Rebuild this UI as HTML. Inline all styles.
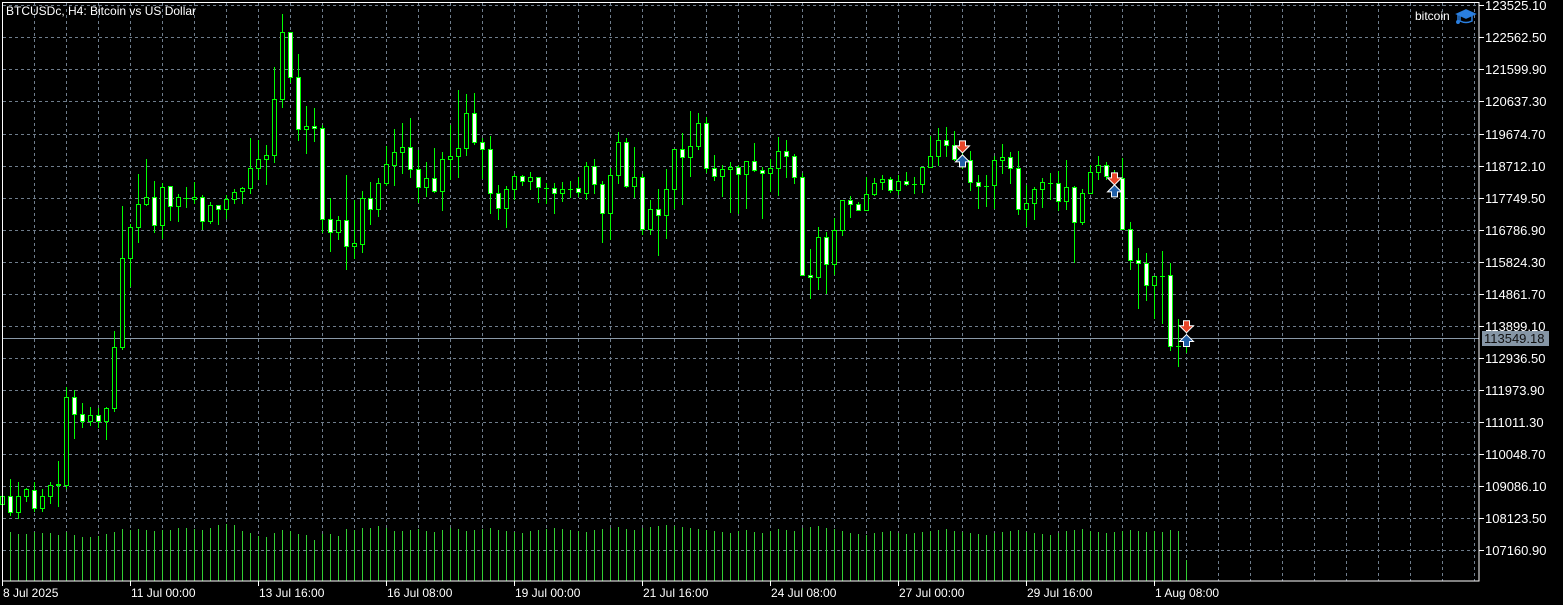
<!DOCTYPE html>
<html><head><meta charset="utf-8"><style>
html,body{margin:0;padding:0;background:#000;width:1563px;height:605px;overflow:hidden}
svg{display:block}
text{font-family:"Liberation Sans",sans-serif}
</style></head><body>
<svg id="chart" width="1563" height="605" viewBox="0 0 1563 605" xmlns="http://www.w3.org/2000/svg">
<rect x="0" y="0" width="1563" height="605" fill="#000"/>
<g id="grid"></g>
<g id="vol"></g>
<g id="candles"></g>
<g id="marks"></g>
<g id="axes"></g>
<text x="6" y="15" fill="#fff" font-size="12">BTCUSDc, H4:  Bitcoin vs US Dollar</text>
<text x="1415" y="20" fill="#fff" font-size="12">bitcoin</text>
<g fill="none" stroke="#2a7fe0" stroke-width="1.5">
<path d="M1457 14 L1466 10 L1475 14 L1466 18 Z" fill="#2a7fe0"/>
<path d="M1460 16 L1460 21 Q1466 24 1472 21 L1472 16"/>
<path d="M1458 14 L1458 21"/><circle cx="1458" cy="22" r="1.2" fill="#2a7fe0"/>
</g>
</svg>
<script>
const opens=[108564,108804,108324,108804,108984,108444,108804,109134,109134,111774,111264,111054,111234,111054,111444,113274,115944,116874,117564,117774,116934,118104,117504,117744,117714,117774,117054,117534,117414,117714,117954,118044,118644,118914,119034,120714,122724,121374,119814,119904,119844,117114,116724,117084,116304,116364,117744,117414,118194,118734,119124,119274,118614,118074,118344,117954,118914,119004,119244,120294,119424,119214,117894,117444,118014,118404,118254,118374,118044,118044,117894,118014,118044,117894,118704,118164,117294,118434,119424,118104,118374,116814,117414,117234,118014,119214,118974,119304,119994,118644,118404,118614,118674,118464,118854,118584,118494,118644,119154,119004,118374,115434,115374,116574,115764,116784,117684,117564,117384,117864,118224,118314,117984,118254,118164,118164,118674,119004,119484,119334,118794,118884,118224,118104,118134,118884,118974,118644,117414,117594,118014,118194,118194,117654,118074,117024,117894,118524,118734,118404,118344,116814,115884,115794,115134,115404,115434,113304,113304];
const highs=[108984,109314,109224,109044,109224,109014,109224,109854,112074,111984,111594,111474,111444,111474,113754,117504,116964,118464,118914,118254,118194,118104,117864,118074,118224,117834,117624,117534,117834,118014,118074,119544,119484,119334,121674,123264,122724,122064,120504,120444,119934,117744,117204,118434,117684,117954,118224,118344,119304,119814,119994,120144,119184,118824,119244,119124,119934,120984,120864,120894,119544,119604,118134,118104,118464,118434,118524,118374,118194,118194,118224,118254,118374,118824,118914,118254,118644,119724,119544,119274,118464,117684,118014,118614,119214,119694,120354,120294,120174,119034,118734,118824,118734,118854,119394,118674,118914,119574,119484,119064,118494,116214,116874,116724,117144,117684,117804,117624,118374,118344,118434,118374,118434,118524,118374,118674,119604,119844,119874,119754,119184,119154,118434,118434,119004,119364,119124,119154,118134,118074,118344,118494,118554,118884,118104,118014,118734,119004,118824,118584,118944,117024,116244,116094,115404,116154,115794,114114,113574];
const lows=[108444,108234,108144,108654,108354,108354,108594,108504,109044,110544,110874,110934,110874,110514,111354,113214,115104,116424,117534,116724,116544,117084,117054,117474,117594,116814,116994,116964,117144,117594,117594,117894,118314,118164,118824,120474,121224,119484,119094,119454,116724,116154,116514,115614,115944,116124,116964,117204,118134,118134,118494,118374,117624,117804,117924,117384,118314,118374,119034,119364,118344,117294,117114,116874,117714,118134,118014,117624,117594,117294,117654,117774,117804,117714,117894,116424,116514,118194,118074,117774,116664,116664,116034,116544,117444,117564,118404,119214,118524,118284,117804,117324,117294,117444,118554,117144,117954,117834,118374,118194,115434,114744,115014,114894,115464,116634,117174,117384,117384,117834,118014,117924,117864,118134,117894,117924,118674,118734,119004,118884,118644,117984,117444,117504,117444,118494,118194,117264,116904,117114,117474,117714,117384,117414,115824,116964,117894,118314,118314,118284,116814,115614,114444,114684,114144,113994,113184,112704,113124];
const closes=[108804,108324,108804,109014,108444,108804,109134,109164,111774,111264,111054,111234,111054,111444,113274,115944,116874,117564,117774,116934,118074,117504,117774,117744,117774,117054,117534,117414,117714,117924,118044,118644,118914,119034,120714,122724,121374,119814,119904,119844,117114,116724,117084,116304,116394,117744,117414,118194,118764,119124,119274,118614,118074,118344,117954,118914,119004,119244,120294,119424,119214,117894,117444,118014,118404,118254,118374,118074,118044,117894,118014,118014,117924,118704,118164,117294,118434,119424,118104,118374,116814,117414,117234,118014,119214,118974,119304,119994,118644,118404,118614,118674,118464,118854,118584,118494,118644,119154,119004,118374,115434,115374,116574,115764,116784,117684,117564,117384,117864,118194,118314,117984,118254,118164,118164,118674,119004,119484,119334,118914,118884,118224,118104,118104,118884,118974,118644,117414,117594,118014,118224,118194,117654,118074,117024,117894,118524,118734,118404,118344,116814,115884,115794,115134,115404,115404,113304,113304,113549.18];
const volumes=[4800,4870,4700,4700,4930,4800,4800,4600,4930,4600,4400,4400,4500,4700,4930,5200,5100,5200,5100,5000,5100,5100,5300,5300,5200,5100,5300,5600,5700,5600,5000,4800,4500,4400,4800,5100,5000,4700,4600,4100,4700,4700,4500,5200,5100,5300,5300,5500,5300,5000,
5000,5100,5200,5000,4900,5100,5300,5200,5000,5100,5200,5300,5100,5000,4900,4800,5000,5100,5200,5300,5200,5100,5000,4900,5100,5200,5300,5400,5200,5100,5300,5400,5500,5600,5500,5400,5300,5200,5100,5000,4900,4800,5000,5100,4900,4800,5000,5200,5100,5000,5300,5400,5500,5300,5200,5000,4800,4700,4600,4800,4900,5000,4800,4700,4800,4900,5000,5100,5200,5000,4900,4800,4700,4600,4800,4900,5000,5100,4900,4800,4700,4600,4800,5000,5100,5200,5000,4900,4800,4900,5000,5100,5000,4900,5000,4900,5100,5000,2100];
const priceTicks=[123525.10,122562.50,121599.90,120637.30,119674.70,118712.10,117749.50,116786.90,115824.30,114861.70,113899.10,112936.50,111973.90,111011.30,110048.70,109086.10,108123.50,107160.90];
const timeLabels=["8 Jul 2025","11 Jul 00:00","13 Jul 16:00","16 Jul 08:00","19 Jul 00:00","21 Jul 16:00","24 Jul 08:00","27 Jul 00:00","29 Jul 16:00","1 Aug 08:00"];
const timeLabelIdx=[0,16,32,48,64,80,96,112,128,144];
const sellIdx=[120,139,148];
const sellPrice=[119244,118284,113844];
const buyPrice=[118884,117984,113489];
const currentPrice=113549.18;

const NS="http://www.w3.org/2000/svg";
const PX_PER_PRICE=32.06/962.6;
function yP(p){return 5.3+(123525.1-p)*PX_PER_PRICE;}
function xC(i){return 2+8*i;}
function yV(v){return 581-v*0.01;}
function mk(tag,attrs,parent){const e=document.createElementNS(NS,tag);for(const k in attrs)e.setAttribute(k,attrs[k]);parent.appendChild(e);return e;}
const G=document.getElementById('grid'),V=document.getElementById('vol'),C=document.getElementById('candles'),M=document.getElementById('marks'),A=document.getElementById('axes');
const grid="#6f7d8c";
priceTicks.forEach((p,k)=>{const y=Math.round(yP(p))+0.5;
 const l=mk('line',{x1:3,x2:1479,y1:y,y2:y,stroke:grid,'stroke-width':1,'stroke-dasharray':'3,3'},G);
 
 
 const t=mk('line',{x1:1479,x2:1484,y1:y,y2:y,stroke:'#fff'},A);
 
 
 const tx=mk('text',{x:1485,y:y+4.5,fill:'#fff','font-size':13},A);tx.textContent=p.toFixed(2);
 
 
});
for(let x=34;x<1479;x+=32){const l=mk('line',{x1:x+0.5,x2:x+0.5,y1:3,y2:581,stroke:grid,'stroke-width':1,'stroke-dasharray':'3,3'},G);
 
 }
volumes.forEach((v,i)=>{const x=xC(i)+0.5;const l=mk('line',{x1:x,x2:x,y1:581,y2:Math.round(yV(v)),stroke:'#32cd32','stroke-width':1},V);
 
 });
const cy=Math.round(yP(currentPrice))+0.5;
const cl=mk('line',{x1:3,x2:1479,y1:cy,y2:cy,stroke:'#8a99a8','stroke-width':1},G);


opens.forEach((o,i)=>{const c=xC(i);const g=mk('g',{},C);
 
 
 const h=Math.round(yP(highs[i])),l=Math.round(yP(lows[i]));
 mk('line',{x1:c+0.5,x2:c+0.5,y1:h,y2:l+1,stroke:'#00ff00','stroke-width':1},g);
 const yo=Math.round(yP(o)),yc=Math.round(yP(closes[i]));
 const top=Math.min(yo,yc),bot=Math.max(yo,yc);
 if(bot-top<1){mk('line',{x1:c-2,x2:c+3,y1:top+0.5,y2:top+0.5,stroke:'#00ff00'},g);}
 else{mk('rect',{x:c-1.5,y:top+0.5,width:4,height:bot-top,fill:closes[i]<o?'#fff':'#000',stroke:'#00ff00','stroke-width':1},g);}
});
sellIdx.forEach((i,k)=>{const c=xC(i)+0.5;
 const ys=yP(sellPrice[k]),yb=yP(buyPrice[k]);
 const s=mk('path',{d:`M${c-3} ${ys-7}h6v5h4l-7 7l-7-7h4z`,fill:'#e8462a',stroke:'#fff','stroke-width':1},M);
 
 
 const b=mk('path',{d:`M${c-3} ${yb+7}h6v-5h4l-7-7l-7 7h4z`,fill:'#1f5fa8',stroke:'#fff','stroke-width':1},M);
 
 
});
const fr=mk('rect',{x:2.5,y:2.5,width:1476.5,height:578.5,fill:'none',stroke:'#fff','stroke-width':1},A);


timeLabels.forEach((t,k)=>{const x=xC(timeLabelIdx[k])+0.5;
 const tk=mk('line',{x1:x,x2:x,y1:581,y2:586,stroke:'#fff'},A);
 
 
 const tx=mk('text',{x:x+0.5,y:597,fill:'#fff','font-size':12},A);tx.textContent=t;
 
 
});
const pb=mk('rect',{x:1482,y:cy-7.5,width:67,height:15,fill:'#8696a6'},A);


const pt=mk('text',{x:1484,y:cy+4.5,fill:'#111','font-size':13},A);pt.textContent=currentPrice.toFixed(2);


</script>
</body></html>
